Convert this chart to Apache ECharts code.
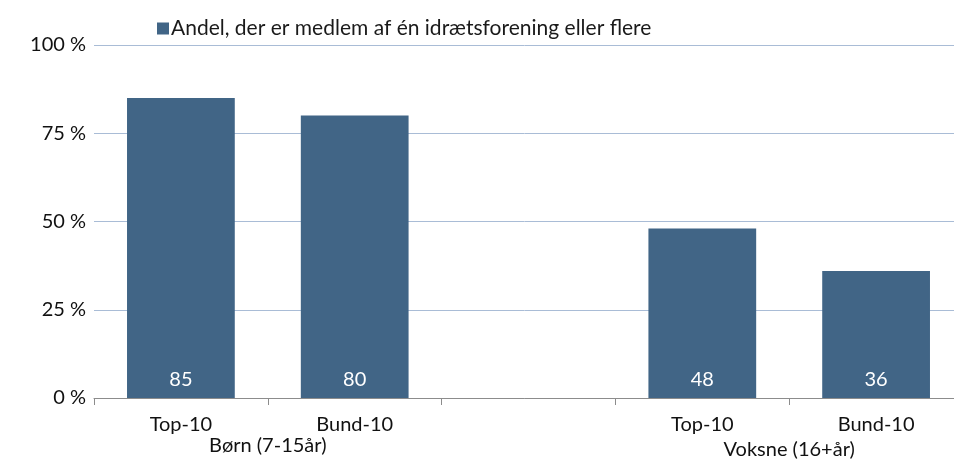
<!DOCTYPE html>
<html>
<head>
<meta charset="utf-8">
<script src="https://cdn.jsdelivr.net/npm/echarts@6/dist/echarts.min.js"></script>
<style>
  html, body { margin: 0; padding: 0; background: #fff; }
  #chart { width: 954px; height: 459px; }
</style>
</head>
<body>
<div id="chart"></div>
<script>
// data
const categories = ['Top-10', 'Bund-10', '', 'Top-10', 'Bund-10'];
const groupLabels = ['', 'Børn (7-15år)', '', '', 'Voksne (16+år)', ''];
const seriesName = 'Andel, der er medlem af én idrætsforening eller flere';
const values = [85, 80, null, 48, 36];
const yTicks = [0, 25, 50, 75, 100];

const font = 'Lato, "Noto Sans", sans-serif';
const myChart = echarts.init(document.getElementById('chart'));

myChart.setOption({
  animation: false,
  textStyle: { fontFamily: font },
  legend: {
    data: [seriesName],
    left: 152,
    top: 13,
    itemWidth: 12,
    itemHeight: 12,
    itemGap: 2,
    icon: 'rect',
    textStyle: { fontSize: 21, color: '#1a1a1a', fontFamily: font, padding: [0, 0, 0, -3] }
  },
  grid: { left: 94, top: 45, width: 869, height: 353, outerBoundsMode: 'none', containLabel: false },
  xAxis: [
    {
      type: 'category',
      data: categories,
      axisLine: { lineStyle: { color: '#8c8c8c', width: 1 } },
      axisTick: { show: true, length: 7, lineStyle: { color: '#8c8c8c' } },
      axisLabel: { fontSize: 20, color: '#111', margin: 17, fontFamily: font, interval: 0 }
    },
    {
      type: 'category',
      position: 'bottom',
      boundaryGap: false,
      data: groupLabels,
      axisLine: { show: false },
      axisTick: { show: false },
      axisLabel: {
        interval: 0,
        margin: 38,
        fontSize: 20,
        color: '#111',
        fontFamily: font,
        formatter: function (v, i) {
          return i === 4 ? '{v|' + v + '}' : v;
        },
        rich: { v: { fontSize: 20, color: '#111', fontFamily: font, padding: [4, 0, 0, 0] } }
      }
    }
  ],
  yAxis: {
    type: 'value',
    min: yTicks[0],
    max: yTicks[yTicks.length - 1],
    interval: 25,
    axisLine: { show: false },
    axisTick: { show: false },
    splitLine: { lineStyle: { color: '#a9bcd6', width: 1 } },
    axisLabel: {
      fontSize: 20,
      color: '#111',
      margin: 8,
      fontFamily: font,
      formatter: function (v) { return v + ' %'; }
    }
  },
  series: [
    {
      name: seriesName,
      type: 'bar',
      xAxisIndex: 0,
      data: values,
      barWidth: '62%',
      itemStyle: { color: '#416586' },
      label: {
        show: true,
        position: 'insideBottom',
        distance: 8,
        color: '#fff',
        fontSize: 20,
        fontFamily: font
      }
    }
  ]
});
</script>
</body>
</html>
